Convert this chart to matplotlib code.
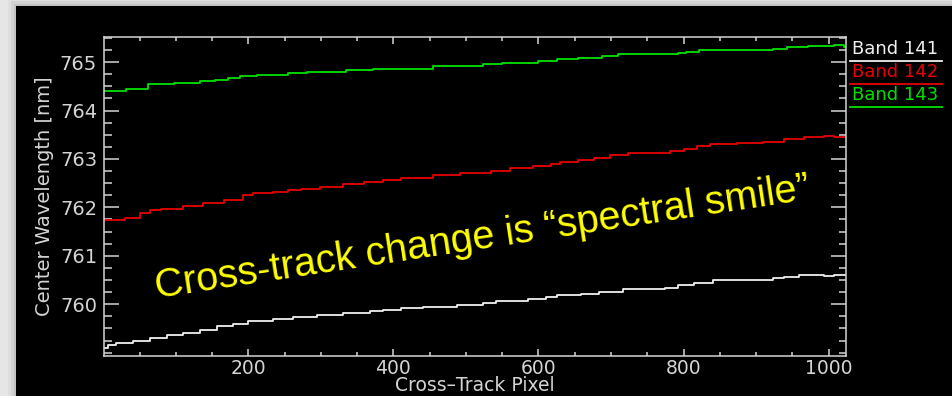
import numpy as np
import matplotlib
matplotlib.use('Agg')
import matplotlib.pyplot as plt
from matplotlib.ticker import MultipleLocator, FixedLocator
from matplotlib.patches import Rectangle
from matplotlib.lines import Line2D

# Center wavelength vs cross-track pixel for three O2-A bands
band141_x = [1, 7, 17, 41, 65, 88, 110, 134, 157, 179, 199, 234, 262, 295, 331, 368, 386, 410, 441,
             488, 524, 541, 586, 610, 626, 658, 683, 716, 775, 792, 814, 841, 888, 924, 938, 959,
             993, 1007]
band141_nm = [759.10, 759.16, 759.20, 759.25, 759.30, 759.36, 759.41, 759.47, 759.54, 759.60,
              759.65, 759.69, 759.74, 759.78, 759.82, 759.86, 759.89, 759.92, 759.95, 759.99,
              760.02, 760.06, 760.11, 760.14, 760.18, 760.22, 760.26, 760.32, 760.34, 760.39,
              760.44, 760.49, 760.51, 760.54, 760.57, 760.61, 760.58, 760.61]

band142_x = [1, 30, 51, 65, 79, 110, 138, 166, 193, 207, 234, 254, 272, 299, 331, 359, 386, 410,
             455, 492, 534, 561, 593, 617, 630, 654, 676, 699, 723, 782, 800, 819, 837, 874, 888,
             910, 938, 966, 993, 1007]
band142_nm = [761.73, 761.79, 761.88, 761.94, 761.97, 762.02, 762.09, 762.15, 762.25, 762.29,
              762.32, 762.35, 762.38, 762.43, 762.48, 762.52, 762.57, 762.60, 762.67, 762.71,
              762.76, 762.82, 762.86, 762.90, 762.94, 762.98, 763.03, 763.08, 763.12, 763.16,
              763.21, 763.26, 763.31, 763.34, 763.32, 763.35, 763.41, 763.46, 763.48, 763.45]

band143_x = [1, 32, 62, 97, 134, 154, 172, 189, 212, 255, 281, 334, 372, 455, 523, 550, 600, 626,
             654, 688, 710, 792, 803, 821, 883, 924, 943, 971, 1007, 1021]
band143_nm = [764.40, 764.45, 764.55, 764.58, 764.61, 764.64, 764.68, 764.71, 764.74, 764.77,
              764.79, 764.84, 764.86, 764.93, 764.96, 764.99, 765.03, 765.06, 765.09, 765.12,
              765.16, 765.18, 765.22, 765.25, 765.25, 765.28, 765.32, 765.34, 765.35, 765.32]

band_labels = ['Band 141', 'Band 142', 'Band 143']
band_colors = ['#f0f0f0', '#e80000', '#00e000']
y_major = [760, 761, 762, 763, 764, 765]
last_pixel = 1024

fg = '#d4d4d4'

fig = plt.figure(figsize=(9.53, 3.96), dpi=100)
fig.patch.set_facecolor('#e6e6e6')

# dark panel with a soft shadow
for off, a in [(0.008, 0.06), (0.005, 0.10), (0.0025, 0.16)]:
    fig.add_artist(Rectangle((16 / 953 - off, 0), 1, (390 / 396) + off * 2.4,
                             transform=fig.transFigure, facecolor='#707070', alpha=a,
                             edgecolor='none', zorder=0))
fig.add_artist(Rectangle((16 / 953, 0), 1, 390 / 396, transform=fig.transFigure,
                         facecolor='black', edgecolor='none', zorder=0))

ax = fig.add_axes([104 / 953, 40 / 396, 742 / 953, 319 / 396])
ax.set_facecolor('black')

series = [(band141_x, band141_nm), (band142_x, band142_nm), (band143_x, band143_nm)]
for (xs, ys), c in zip(series, band_colors):
    xs = np.append(xs, last_pixel)
    ys = np.append(ys, ys[-1])
    ax.plot(xs, ys, color=c, lw=1.3, drawstyle='steps-post')

ax.set_xlim(1, last_pixel)
ax.set_ylim(758.93, 765.52)
ax.xaxis.set_major_locator(MultipleLocator(200))
ax.xaxis.set_minor_locator(MultipleLocator(50))
ax.yaxis.set_major_locator(FixedLocator(y_major))
ax.yaxis.set_minor_locator(MultipleLocator(0.25))

for s in ax.spines.values():
    s.set_color(fg)
    s.set_linewidth(1.1)

ax.tick_params(axis='both', which='both', direction='in', colors=fg, width=1.1,
               top=True, right=True, labelsize=14, pad=5)
ax.tick_params(axis='x', which='major', length=5, pad=2, labelsize=13.5)
ax.tick_params(axis='x', which='minor', length=2.6)
ax.tick_params(axis='y', which='major', length=10.8)
ax.tick_params(axis='y', which='minor', length=5.4)

ax.set_xlabel('Cross\u2013Track Pixel', color=fg, fontsize=13.5, labelpad=-1)
ax.set_ylabel('Center Wavelength [nm]', color=fg, fontsize=14, labelpad=4)

# band key to the right of the plot, each name underlined
key_y = [49, 72, 95]
for lab, c, yp in zip(band_labels, band_colors, key_y):
    fig.text(852 / 953, 1 - yp / 396, lab, color=c, fontsize=13, ha='left', va='center')
    ly = 1 - (yp + 11.5) / 396
    fig.add_artist(Line2D([850 / 953, 942 / 953], [ly, ly], transform=fig.transFigure,
                          color=c, lw=1.3))

fig.text(482 / 953, 1 - 238 / 396, 'Cross-track change is \u201cspectral smile\u201d',
         color='#ffff00', fontsize=28.5, family='Liberation Sans', rotation=8.6,
         rotation_mode='anchor', ha='center', va='center')

fig.savefig('out.png', dpi=100, facecolor=fig.get_facecolor())
